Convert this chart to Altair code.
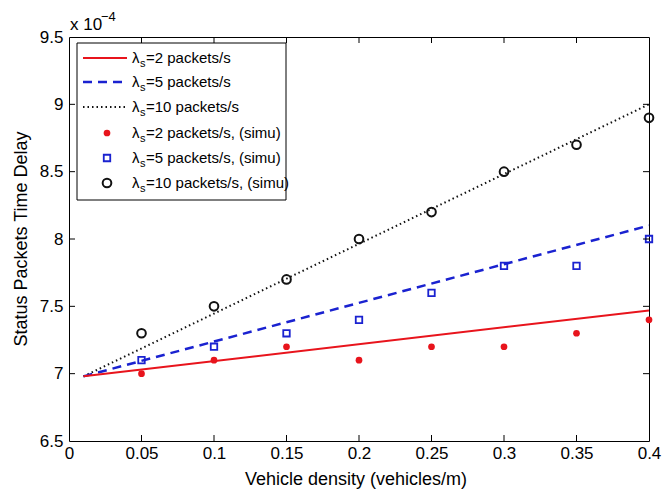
import altair as alt
import pandas as pd

# ---- data (y in units of 1e-4 s) ----
density = [0.05, 0.10, 0.15, 0.20, 0.25, 0.30, 0.35, 0.40]
sim_2 = [7.0, 7.1, 7.2, 7.1, 7.2, 7.2, 7.3, 7.4]
sim_5 = [7.1, 7.2, 7.3, 7.4, 7.6, 7.8, 7.8, 8.0]
sim_10 = [7.3, 7.5, 7.7, 8.0, 8.2, 8.5, 8.7, 8.9]

line_x = [0.01, 0.40]
ana_2 = [6.98, 7.47]
ana_5 = [6.98, 8.10]
ana_10 = [6.98, 9.00]

x_ticks = [0, 0.05, 0.1, 0.15, 0.2, 0.25, 0.3, 0.35, 0.4]
y_ticks = [6.5, 7, 7.5, 8, 8.5, 9, 9.5]

RED = "#e8141c"
BLUE = "#1a22d0"
BLACK = "#111111"
FONT = "Liberation Sans"

W, H = 580, 404

xs = alt.Scale(domain=[0, 0.4], nice=False, zero=False)
ys = alt.Scale(domain=[6.5, 9.5], nice=False, zero=False)

xax = alt.Axis(values=x_ticks, format=".2~f", ticks=False, domain=False, grid=False,
               labelFont=FONT, labelFontSize=17, labelColor="black", labelPadding=4,
               labelFlush=False, labelOverlap=False, title=None)
yax = alt.Axis(values=y_ticks, format=".1~f", ticks=False, domain=False, grid=False,
               labelFont=FONT, labelFontSize=17, labelColor="black", labelPadding=6,
               labelFlush=False, labelOverlap=False, title=None)

def line_layer(yvals, color, dash, width):
    df = pd.DataFrame({"x": line_x, "y": yvals})
    kw = dict(color=color, strokeWidth=width, clip=True)
    if dash:
        kw["strokeDash"] = dash
    return alt.Chart(df).mark_line(**kw).encode(
        x=alt.X("x:Q", scale=xs, axis=xax),
        y=alt.Y("y:Q", scale=ys, axis=yax),
    )

l2 = line_layer(ana_2, RED, None, 2)
l5 = line_layer(ana_5, BLUE, [9, 6], 2.5)
l10 = line_layer(ana_10, BLACK, [1.5, 3], 2)

def pts(yvals, shape, filled, color, size, sw):
    df = pd.DataFrame({"x": density, "y": yvals})
    if filled:
        m = alt.Chart(df).mark_point(shape=shape, filled=True, color=color, size=size, opacity=1)
    else:
        m = alt.Chart(df).mark_point(shape=shape, filled=False, color=color, size=size,
                                     strokeWidth=sw, opacity=1)
    return m.encode(x=alt.X("x:Q", scale=xs, axis=xax), y=alt.Y("y:Q", scale=ys, axis=yax))

p2 = pts(sim_2, "circle", True, RED, 45, 0)
p5 = pts(sim_5, "square", False, BLUE, 42, 1.8)
p10 = pts(sim_10, "circle", False, BLACK, 75, 2)

# ---- inside ticks (Matlab style) ----
xt = pd.DataFrame({"x": x_ticks[1:-1]})
yt = pd.DataFrame({"y": y_ticks[1:-1]})
tick_bot = alt.Chart(xt).mark_rule(color="black", strokeWidth=1).encode(
    x=alt.X("x:Q", scale=xs, axis=xax), y=alt.value(H), y2=alt.value(H - 6))
tick_top = alt.Chart(xt).mark_rule(color="black", strokeWidth=1).encode(
    x=alt.X("x:Q", scale=xs, axis=xax), y=alt.value(0), y2=alt.value(6))
tick_left = alt.Chart(yt).mark_rule(color="black", strokeWidth=1).encode(
    y=alt.Y("y:Q", scale=ys, axis=yax), x=alt.value(0), x2=alt.value(6))
tick_right = alt.Chart(yt).mark_rule(color="black", strokeWidth=1).encode(
    y=alt.Y("y:Q", scale=ys, axis=yax), x=alt.value(W), x2=alt.value(W - 6))

# ---- titles ----
one = pd.DataFrame({"a": [0]})
def txt(s, x, y, size, **kw):
    return alt.Chart(one).mark_text(text=s, font=FONT, fontSize=size, color="black", **kw).encode(
        x=alt.value(x), y=alt.value(y))

xtitle = txt("Vehicle density (vehicles/m)", W / 2 - 3, H + 44, 18, align="center", baseline="alphabetic")
ytitle = txt("Status Packets Time Delay", -47, H / 2, 18, align="center", baseline="middle", angle=270)
exp1 = txt("x 10", 1, -7, 17, align="left", baseline="alphabetic")
exp2 = txt("\u22124", 32, -16, 13, align="left", baseline="alphabetic")

# ---- legend ----
leg_box = alt.Chart(one).mark_rect(fill="white", stroke="black", strokeWidth=1).encode(
    x=alt.value(8), x2=alt.value(217), y=alt.value(6), y2=alt.value(163))

rows_y = [21, 45, 70, 96, 121, 146]
labels = ["=2 packets/s", "=5 packets/s", "=10 packets/s",
          "=2 packets/s, (simu)", "=5 packets/s, (simu)", "=10 packets/s, (simu)"]
legend_layers = [leg_box]
line_styles = [(RED, None, 2), (BLUE, [9, 6], 2.5), (BLACK, [1.5, 3], 2)]
for i, (c, d, w) in enumerate(line_styles):
    kw = dict(color=c, strokeWidth=w)
    if d:
        kw["strokeDash"] = d
    legend_layers.append(alt.Chart(one).mark_rule(**kw).encode(
        x=alt.value(14), x2=alt.value(58), y=alt.value(rows_y[i])))
sym_styles = [("circle", True, RED, 45, 0), ("square", False, BLUE, 42, 1.8), ("circle", False, BLACK, 75, 2)]
for j, (sh, f, c, s, sw) in enumerate(sym_styles):
    if f:
        m = alt.Chart(one).mark_point(shape=sh, filled=True, color=c, size=s, opacity=1)
    else:
        m = alt.Chart(one).mark_point(shape=sh, filled=False, color=c, size=s, strokeWidth=sw, opacity=1)
    legend_layers.append(m.encode(x=alt.value(38), y=alt.value(rows_y[3 + j])))
for i, lab in enumerate(labels):
    ry = rows_y[i]
    legend_layers.append(txt("\u03bb", 63, ry + 5, 15, align="left", baseline="alphabetic"))
    legend_layers.append(txt("s", 71, ry + 9, 11, align="left", baseline="alphabetic"))
    legend_layers.append(txt(lab, 77, ry + 5, 15, align="left", baseline="alphabetic"))

chart = alt.layer(
    l10, l5, l2, p2, p5, p10,
    tick_bot, tick_top, tick_left, tick_right,
    *legend_layers,
    xtitle, ytitle, exp1, exp2,
).properties(
    width=W, height=H,
    autosize=alt.AutoSizeParams(type="none"),
    padding={"left": 69, "top": 37, "right": 15, "bottom": 52},
    background="white",
).configure_view(
    stroke="black", strokeWidth=1
)

chart.save("out.html", embed_options={"renderer": "svg", "actions": False})
